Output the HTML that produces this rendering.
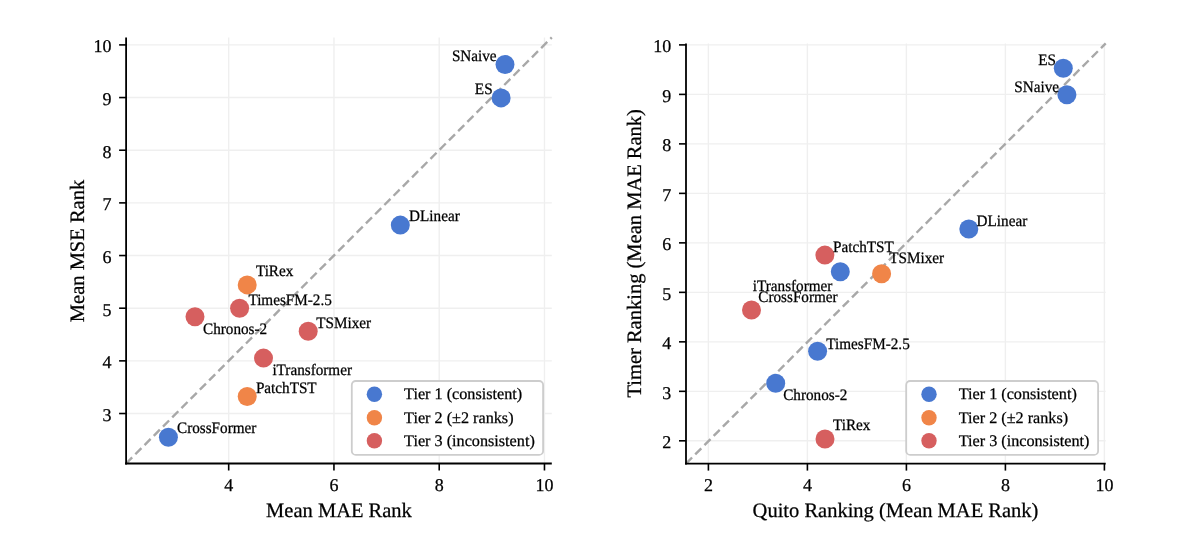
<!DOCTYPE html>
<html><head><meta charset="utf-8">
<style>
html,body{margin:0;padding:0;background:#fff;width:1199px;height:544px;overflow:hidden}
svg{display:block;will-change:transform}
text{font-family:"Liberation Serif",serif;text-rendering:geometricPrecision;fill:#000;stroke:#000;stroke-width:0.25px}
.tl{font-size:18px}
.ann{font-size:15.2px}
.lg{font-size:16.2px}
.al{font-size:20.5px}
.grid{stroke:#efefef;stroke-width:1.4}
.diag{stroke:#a8a8a8;stroke-width:2.4;stroke-dasharray:8.6 4.45}
.spine{stroke:#000;stroke-width:1.8}
.tick{stroke:#000;stroke-width:1.6}
.leg{fill:#fff;stroke:#cdcdcd;stroke-width:1.8}
</style></head>
<body><svg width="1199" height="544" viewBox="0 0 1199 544">
<line x1="228.69" y1="37.40" x2="228.69" y2="463.50" class="grid"/>
<line x1="333.95" y1="37.40" x2="333.95" y2="463.50" class="grid"/>
<line x1="439.21" y1="37.40" x2="439.21" y2="463.50" class="grid"/>
<line x1="544.47" y1="37.40" x2="544.47" y2="463.50" class="grid"/>
<line x1="126.10" y1="413.52" x2="551.80" y2="413.52" class="grid"/>
<line x1="126.10" y1="360.86" x2="551.80" y2="360.86" class="grid"/>
<line x1="126.10" y1="308.20" x2="551.80" y2="308.20" class="grid"/>
<line x1="126.10" y1="255.54" x2="551.80" y2="255.54" class="grid"/>
<line x1="126.10" y1="202.88" x2="551.80" y2="202.88" class="grid"/>
<line x1="126.10" y1="150.22" x2="551.80" y2="150.22" class="grid"/>
<line x1="126.10" y1="97.56" x2="551.80" y2="97.56" class="grid"/>
<line x1="126.10" y1="44.90" x2="551.80" y2="44.90" class="grid"/>
<line x1="126.10" y1="463.50" x2="551.80" y2="37.40" class="diag"/>
<line x1="708.40" y1="43.40" x2="708.40" y2="463.60" class="grid"/>
<line x1="807.40" y1="43.40" x2="807.40" y2="463.60" class="grid"/>
<line x1="906.40" y1="43.40" x2="906.40" y2="463.60" class="grid"/>
<line x1="1005.40" y1="43.40" x2="1005.40" y2="463.60" class="grid"/>
<line x1="1104.40" y1="43.40" x2="1104.40" y2="463.60" class="grid"/>
<line x1="686.00" y1="440.82" x2="1105.70" y2="440.82" class="grid"/>
<line x1="686.00" y1="391.33" x2="1105.70" y2="391.33" class="grid"/>
<line x1="686.00" y1="341.84" x2="1105.70" y2="341.84" class="grid"/>
<line x1="686.00" y1="292.35" x2="1105.70" y2="292.35" class="grid"/>
<line x1="686.00" y1="242.86" x2="1105.70" y2="242.86" class="grid"/>
<line x1="686.00" y1="193.37" x2="1105.70" y2="193.37" class="grid"/>
<line x1="686.00" y1="143.88" x2="1105.70" y2="143.88" class="grid"/>
<line x1="686.00" y1="94.39" x2="1105.70" y2="94.39" class="grid"/>
<line x1="686.00" y1="44.90" x2="1105.70" y2="44.90" class="grid"/>
<line x1="686.00" y1="463.60" x2="1105.70" y2="43.40" class="diag"/>
<circle cx="505.00" cy="64.50" r="9.5" fill="#4878d0"/>
<circle cx="501.10" cy="97.90" r="9.5" fill="#4878d0"/>
<circle cx="400.30" cy="225.10" r="9.5" fill="#4878d0"/>
<circle cx="247.20" cy="284.90" r="9.5" fill="#f08548"/>
<circle cx="239.60" cy="308.30" r="9.5" fill="#d65f5f"/>
<circle cx="195.00" cy="316.80" r="9.5" fill="#d65f5f"/>
<circle cx="308.20" cy="331.30" r="9.5" fill="#d65f5f"/>
<circle cx="263.50" cy="358.10" r="9.5" fill="#d65f5f"/>
<circle cx="247.20" cy="396.50" r="9.5" fill="#f08548"/>
<circle cx="168.40" cy="437.20" r="9.5" fill="#4878d0"/>
<circle cx="1063.30" cy="68.30" r="9.5" fill="#4878d0"/>
<circle cx="1066.90" cy="94.70" r="9.5" fill="#4878d0"/>
<circle cx="968.80" cy="229.00" r="9.5" fill="#4878d0"/>
<circle cx="824.90" cy="255.10" r="9.5" fill="#d65f5f"/>
<circle cx="840.30" cy="271.70" r="9.5" fill="#4878d0"/>
<circle cx="881.60" cy="273.80" r="9.5" fill="#f08548"/>
<circle cx="751.50" cy="310.00" r="9.5" fill="#d65f5f"/>
<circle cx="817.60" cy="351.30" r="9.5" fill="#4878d0"/>
<circle cx="775.70" cy="383.30" r="9.5" fill="#4878d0"/>
<circle cx="825.00" cy="439.00" r="9.5" fill="#d65f5f"/>
<text transform="translate(496.60 60.90) scale(1 1.05)" class="ann" text-anchor="end">SNaive</text>
<text transform="translate(492.60 94.30) scale(1 1.05)" class="ann" text-anchor="end">ES</text>
<text transform="translate(409.10 221.20) scale(1 1.05)" class="ann" text-anchor="start">DLinear</text>
<text transform="translate(255.90 276.20) scale(1 1.05)" class="ann" text-anchor="start">TiRex</text>
<text transform="translate(248.40 305.30) scale(1 1.05)" class="ann" text-anchor="start">TimesFM-2.5</text>
<text transform="translate(203.00 334.00) scale(1 1.05)" class="ann" text-anchor="start">Chronos-2</text>
<text transform="translate(316.20 327.70) scale(1 1.05)" class="ann" text-anchor="start">TSMixer</text>
<text transform="translate(272.40 374.70) scale(1 1.05)" class="ann" text-anchor="start">iTransformer</text>
<text transform="translate(255.90 392.90) scale(1 1.05)" class="ann" text-anchor="start">PatchTST</text>
<text transform="translate(177.00 433.30) scale(1 1.05)" class="ann" text-anchor="start">CrossFormer</text>
<text transform="translate(1055.90 64.80) scale(1 1.05)" class="ann" text-anchor="end">ES</text>
<text transform="translate(1059.00 91.80) scale(1 1.05)" class="ann" text-anchor="end">SNaive</text>
<text transform="translate(976.60 226.20) scale(1 1.05)" class="ann" text-anchor="start">DLinear</text>
<text transform="translate(833.00 251.80) scale(1 1.05)" class="ann" text-anchor="start">PatchTST</text>
<text transform="translate(889.20 263.40) scale(1 1.05)" class="ann" text-anchor="start">TSMixer</text>
<text transform="translate(752.80 291.30) scale(1 1.05)" class="ann" text-anchor="start">iTransformer</text>
<text transform="translate(758.30 302.30) scale(1 1.05)" class="ann" text-anchor="start">CrossFormer</text>
<text transform="translate(826.30 348.80) scale(1 1.05)" class="ann" text-anchor="start">TimesFM-2.5</text>
<text transform="translate(783.20 400.10) scale(1 1.05)" class="ann" text-anchor="start">Chronos-2</text>
<text transform="translate(833.00 430.30) scale(1 1.05)" class="ann" text-anchor="start">TiRex</text>
<rect x="351.80" y="381.00" width="191.30" height="73.90" rx="4" ry="4" class="leg"/>
<circle cx="374.40" cy="394.30" r="7.7" fill="#4878d0"/>
<text x="404.10" y="399.40" class="lg">Tier 1 (consistent)</text>
<circle cx="374.40" cy="417.70" r="7.7" fill="#f08548"/>
<text x="404.10" y="422.80" class="lg">Tier 2 (&#177;2 ranks)</text>
<circle cx="374.40" cy="440.80" r="7.7" fill="#d65f5f"/>
<text x="404.10" y="445.90" class="lg">Tier 3 (inconsistent)</text>
<rect x="906.20" y="381.00" width="191.90" height="73.90" rx="4" ry="4" class="leg"/>
<circle cx="929.00" cy="394.30" r="7.7" fill="#4878d0"/>
<text x="958.70" y="399.40" class="lg">Tier 1 (consistent)</text>
<circle cx="929.00" cy="417.70" r="7.7" fill="#f08548"/>
<text x="958.70" y="422.80" class="lg">Tier 2 (&#177;2 ranks)</text>
<circle cx="929.00" cy="440.80" r="7.7" fill="#d65f5f"/>
<text x="958.70" y="445.90" class="lg">Tier 3 (inconsistent)</text>
<line x1="126.10" y1="37.40" x2="126.10" y2="464.50" class="spine"/>
<line x1="125.10" y1="463.50" x2="551.80" y2="463.50" class="spine"/>
<line x1="228.69" y1="463.50" x2="228.69" y2="470.50" class="tick"/>
<text x="228.69" y="490.90" class="tl" text-anchor="middle">4</text>
<line x1="333.95" y1="463.50" x2="333.95" y2="470.50" class="tick"/>
<text x="333.95" y="490.90" class="tl" text-anchor="middle">6</text>
<line x1="439.21" y1="463.50" x2="439.21" y2="470.50" class="tick"/>
<text x="439.21" y="490.90" class="tl" text-anchor="middle">8</text>
<line x1="544.47" y1="463.50" x2="544.47" y2="470.50" class="tick"/>
<text x="544.47" y="490.90" class="tl" text-anchor="middle">10</text>
<line x1="119.10" y1="413.52" x2="126.10" y2="413.52" class="tick"/>
<text x="111.60" y="420.82" class="tl" text-anchor="end">3</text>
<line x1="119.10" y1="360.86" x2="126.10" y2="360.86" class="tick"/>
<text x="111.60" y="368.16" class="tl" text-anchor="end">4</text>
<line x1="119.10" y1="308.20" x2="126.10" y2="308.20" class="tick"/>
<text x="111.60" y="315.50" class="tl" text-anchor="end">5</text>
<line x1="119.10" y1="255.54" x2="126.10" y2="255.54" class="tick"/>
<text x="111.60" y="262.84" class="tl" text-anchor="end">6</text>
<line x1="119.10" y1="202.88" x2="126.10" y2="202.88" class="tick"/>
<text x="111.60" y="210.18" class="tl" text-anchor="end">7</text>
<line x1="119.10" y1="150.22" x2="126.10" y2="150.22" class="tick"/>
<text x="111.60" y="157.52" class="tl" text-anchor="end">8</text>
<line x1="119.10" y1="97.56" x2="126.10" y2="97.56" class="tick"/>
<text x="111.60" y="104.86" class="tl" text-anchor="end">9</text>
<line x1="119.10" y1="44.90" x2="126.10" y2="44.90" class="tick"/>
<text x="111.60" y="52.20" class="tl" text-anchor="end">10</text>
<line x1="686.00" y1="43.40" x2="686.00" y2="464.60" class="spine"/>
<line x1="685.00" y1="463.60" x2="1105.70" y2="463.60" class="spine"/>
<line x1="708.40" y1="463.60" x2="708.40" y2="470.60" class="tick"/>
<text x="708.40" y="490.90" class="tl" text-anchor="middle">2</text>
<line x1="807.40" y1="463.60" x2="807.40" y2="470.60" class="tick"/>
<text x="807.40" y="490.90" class="tl" text-anchor="middle">4</text>
<line x1="906.40" y1="463.60" x2="906.40" y2="470.60" class="tick"/>
<text x="906.40" y="490.90" class="tl" text-anchor="middle">6</text>
<line x1="1005.40" y1="463.60" x2="1005.40" y2="470.60" class="tick"/>
<text x="1005.40" y="490.90" class="tl" text-anchor="middle">8</text>
<line x1="1104.40" y1="463.60" x2="1104.40" y2="470.60" class="tick"/>
<text x="1104.40" y="490.90" class="tl" text-anchor="middle">10</text>
<line x1="679.00" y1="440.82" x2="686.00" y2="440.82" class="tick"/>
<text x="671.30" y="448.12" class="tl" text-anchor="end">2</text>
<line x1="679.00" y1="391.33" x2="686.00" y2="391.33" class="tick"/>
<text x="671.30" y="398.63" class="tl" text-anchor="end">3</text>
<line x1="679.00" y1="341.84" x2="686.00" y2="341.84" class="tick"/>
<text x="671.30" y="349.14" class="tl" text-anchor="end">4</text>
<line x1="679.00" y1="292.35" x2="686.00" y2="292.35" class="tick"/>
<text x="671.30" y="299.65" class="tl" text-anchor="end">5</text>
<line x1="679.00" y1="242.86" x2="686.00" y2="242.86" class="tick"/>
<text x="671.30" y="250.16" class="tl" text-anchor="end">6</text>
<line x1="679.00" y1="193.37" x2="686.00" y2="193.37" class="tick"/>
<text x="671.30" y="200.67" class="tl" text-anchor="end">7</text>
<line x1="679.00" y1="143.88" x2="686.00" y2="143.88" class="tick"/>
<text x="671.30" y="151.18" class="tl" text-anchor="end">8</text>
<line x1="679.00" y1="94.39" x2="686.00" y2="94.39" class="tick"/>
<text x="671.30" y="101.69" class="tl" text-anchor="end">9</text>
<line x1="679.00" y1="44.90" x2="686.00" y2="44.90" class="tick"/>
<text x="671.30" y="52.20" class="tl" text-anchor="end">10</text>
<text x="339" y="517" class="al" text-anchor="middle">Mean MAE Rank</text>
<text transform="translate(84.2 251) rotate(-90)" x="0" y="0" class="al" text-anchor="middle">Mean MSE Rank</text>
<text x="895.5" y="517" class="al" text-anchor="middle">Quito Ranking (Mean MAE Rank)</text>
<text transform="translate(640.7 253.3) rotate(-90)" x="0" y="0" class="al" text-anchor="middle">Timer Ranking (Mean MAE Rank)</text>
</svg></body></html>
